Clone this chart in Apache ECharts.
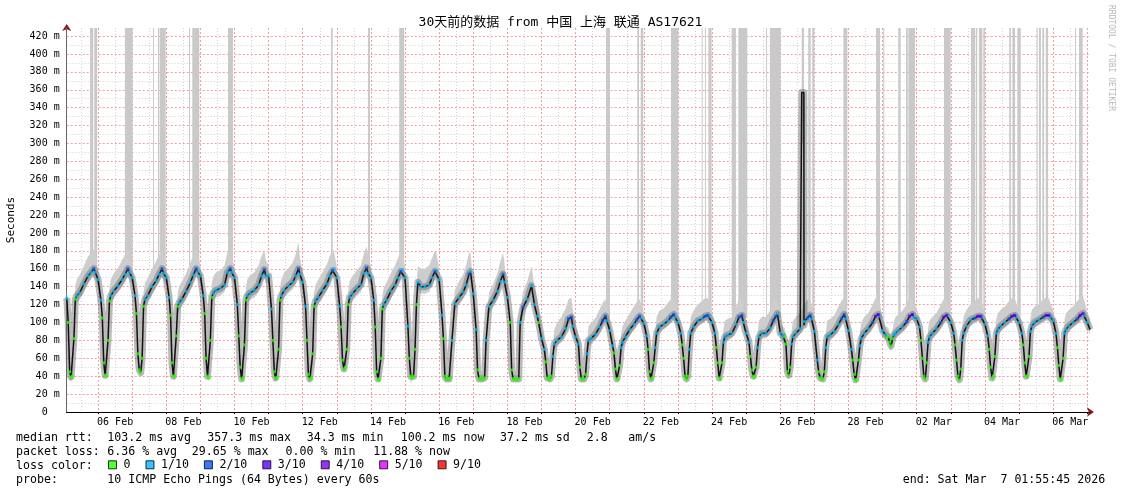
<!DOCTYPE html>
<html>
<head>
<meta charset="utf-8">
<title>SmokePing 30 days</title>
<script src="https://cdn.jsdelivr.net/npm/echarts@6/dist/echarts.min.js"></script>
<style>
    html, body { margin: 0; padding: 0; background: #fff; }
    #chart { width: 1121px; height: 494px; }
</style>
</head>
<body>
<div id="chart"></div>
<script>
// hours of day for every sample in a day row
var sampleHours = [0, 2, 3, 4, 5, 6, 7, 8, 9, 11, 14, 17, 19, 21, 22];

// median rtt (ms), one row per day: 05 Feb ... 07 Mar
var medianRows = [
    [null,127,100,45,39,40,82,126,130,133,143,152,156,160,156],
    [148,125,105,55,41,41,80,124,130,135,141,148,154,160,156],
    [150,130,110,65,47,44,60,118,126,130,140,147,154,160,155],
    [150,128,108,55,40,40,85,118,122,126,135,145,153,160,157],
    [152,130,110,60,40,38,80,128,133,136,138,142,156,160,156],
    [150,120,85,50,37,38,75,125,130,133,136,142,152,159,152],
    [152,115,80,45,38,38,70,125,130,136,141,145,152,160,154],
    [145,118,80,42,37,38,65,118,124,128,136,143,152,158,160],
    [150,118,95,58,48,50,70,120,128,132,138,142,155,161,155],
    [150,125,95,45,37,36,60,115,120,125,135,142,150,157,159],
    [150,96,60,40,38,40,70,120,145,140,140,142,150,157,158],
    [148,108,82,40,37,37,37,38,80,121,128,134,142,154,157],
    [132,92,47,37,37,37,37,38,80,118,125,135,146,154,145],
    [128,100,47,37,37,37,37,37,100,117,126,141,120,107,100],
    [82,70,56,38,37,37,40,62,76,80,84,93,104,106,96],
    [84,76,50,37,37,37,42,65,80,82,87,95,102,107,102],
    [91,74,66,48,37,37,52,72,78,84,92,98,103,107,105],
    [99,85,70,45,37,38,55,72,88,95,98,102,106,109,106],
    [100,88,75,60,40,37,40,70,88,95,102,104,107,108,107],
    [100,88,72,55,38,37,55,78,84,86,88,98,106,108,100],
    [88,78,62,47,40,39,50,72,84,88,88,94,102,107,110],
    [88,85,84,76,45,41,50,76,84,88,93,101,105,108,104],
    [90,58,45,38,37,37,45,72,84,86,90,98,104,109,104],
    [91,70,58,42,36,36,58,74,82,88,93,100,107,109,107],
    [91,86,85,84,78,74,82,86,88,91,95,101,107,109,106],
    [104,95,80,60,40,37,55,78,84,88,93,100,106,108,108],
    [100,88,75,58,40,36,48,80,88,96,103,105,107,107,106],
    [98,85,70,50,38,40,62,88,92,96,100,104,107,108,106],
    [100,88,75,55,40,40,62,90,96,100,103,106,108,108,106],
    [102,88,72,52,37,36,60,88,92,96,100,104,108,110,108],
    [100,92]
];

// top edge of the smoke (ms)
var smokeTopRows = [
    [null,137,112,57,44,45,94,141,148,153,163,174,178,182,174],
    [160,135,115,67,46,46,92,139,148,155,161,170,176,182,174],
    [162,140,120,77,52,49,72,133,144,150,160,169,176,184,173],
    [162,138,118,67,45,45,97,133,140,146,155,167,175,182,175],
    [164,140,120,72,45,43,92,143,151,156,158,164,178,182,174],
    [162,130,95,62,42,43,87,140,148,153,156,164,174,181,170],
    [164,125,90,57,43,43,82,140,148,156,161,167,176,190,172],
    [157,128,90,54,42,43,77,133,142,148,156,165,174,182,180],
    [162,128,105,70,53,55,82,135,146,152,158,164,177,185,175],
    [162,135,105,57,42,41,72,130,138,145,155,164,172,180,180],
    [162,106,70,52,43,45,82,135,163,160,160,164,172,180,178],
    [160,118,92,50,41,41,41,43,92,136,146,154,164,178,178],
    [144,102,57,42,41,41,41,43,92,133,143,155,168,178,165],
    [140,110,57,42,41,41,41,41,112,135,146,163,140,127,118],
    [94,80,66,44,41,41,46,74,92,100,106,116,126,128,114],
    [96,86,60,42,41,41,48,77,96,100,105,115,122,126,118],
    [103,84,76,56,41,41,62,87,96,102,110,118,123,126,121],
    [111,95,80,53,41,42,65,87,106,113,116,122,126,128,122],
    [112,98,85,68,44,41,46,85,106,113,120,124,127,127,123],
    [112,98,82,63,42,41,65,93,102,104,106,118,126,127,116],
    [100,88,72,55,44,43,60,87,102,106,106,114,122,126,126],
    [100,95,94,86,53,45,60,91,102,106,111,121,125,127,120],
    [102,68,55,46,41,41,55,87,102,104,108,118,124,128,120],
    [103,80,68,50,40,40,68,89,100,106,111,120,127,128,123],
    [103,96,95,94,88,84,92,101,106,109,113,121,127,128,122],
    [116,105,90,68,44,41,65,93,102,106,111,120,126,127,124],
    [112,98,85,66,44,40,58,95,106,114,121,125,127,126,122],
    [110,95,80,58,42,44,72,103,110,114,118,124,127,127,122],
    [112,98,85,63,44,44,72,105,114,118,121,126,128,127,122],
    [114,98,82,60,41,40,70,103,110,114,118,124,128,130,124],
    [112,104]
];

// bottom edge of the smoke (ms)
var smokeLowRows = [
    [null,119,88,35,36,37,70,116,122,125,135,144,148,152,148],
    [140,117,93,45,38,38,68,114,122,127,133,140,146,152,148],
    [142,122,98,55,44,41,48,108,118,122,132,139,146,152,147],
    [142,120,96,45,37,37,73,108,114,118,127,137,145,152,149],
    [144,122,98,50,37,35,68,118,125,128,130,134,148,152,148],
    [142,112,73,40,34,35,63,115,122,125,128,134,144,151,144],
    [144,107,68,35,35,35,58,115,122,128,133,137,144,152,146],
    [137,110,68,34,34,35,53,108,116,120,128,135,144,150,152],
    [142,110,83,48,45,47,58,110,120,124,130,134,147,153,147],
    [142,117,83,35,34,33,48,105,112,117,127,134,142,149,151],
    [142,88,48,32,35,37,58,110,137,132,132,134,142,149,150],
    [140,100,70,35,34,34,34,35,68,113,120,126,134,146,149],
    [124,84,40,34,34,34,34,35,68,110,117,127,138,146,137],
    [120,92,40,34,34,34,34,34,88,109,118,133,112,100,93],
    [76,64,48,35,34,34,36,54,70,74,78,87,98,100,90],
    [78,70,42,34,34,34,38,57,74,76,81,89,96,101,96],
    [85,68,58,42,34,34,44,64,72,78,86,92,97,101,99],
    [93,79,62,39,34,35,47,64,82,89,92,96,100,103,100],
    [94,82,67,54,37,34,36,62,82,89,96,98,101,102,101],
    [94,82,64,49,35,34,47,70,78,80,82,92,100,102,94],
    [82,72,54,41,37,36,42,64,78,82,82,88,96,101,104],
    [82,79,76,68,39,38,42,68,78,82,87,95,99,102,98],
    [84,52,39,35,34,34,39,64,78,80,84,92,98,103,98],
    [85,64,50,37,33,33,50,66,76,82,87,94,101,103,101],
    [85,80,79,78,72,68,76,80,82,85,89,95,101,103,100],
    [98,89,72,54,37,34,47,70,78,82,87,94,100,102,102],
    [94,82,67,52,37,33,40,72,82,90,97,99,101,101,100],
    [92,79,62,44,35,37,54,80,86,90,94,98,101,102,100],
    [94,82,67,49,37,37,54,82,90,94,97,100,102,102,100],
    [96,82,64,46,34,33,52,80,86,90,94,98,102,104,102],
    [94,86]
];

// packet loss per sample (x/10)
var lossRows = [
    '110000001111121','110000001111121','110000001111121','110000001111121',
    '110000001111121','110000001111121','110000001111121','110000001111121',
    '110000001111121','110000001111121','110000001111121','110000001111121',
    '110000001111121','100000001211110','110000011111221','110000011111221',
    '110000011111221','110000011111221','110000011111221','110000011111221',
    '110000011111221','110000011111221','110000011111221','110000011112331',
    '110000011112331','110000011112331','110000011112331','110000011112331',
    '110000011112331','110000011112341','11'
];

// the single tall rtt spike on 26 Feb (hours since 05 Feb 00:00)
var peakHours = [519.0, 519.1, 520.6, 520.7];
var peakValues = [95, 357, 357, 97];

// grey columns where some pings went off the scale
var spikeFrom = [18.3,21.3,42.9,62.6,66.1,67.5,88.0,90.3,115.4,187.9,213.9,235.9,381.4,403.4,405.8,427.1,448.7,451.0,453.4,469.8,474.5,494.0,496.7,519.1,523.7,526.5,548.4,571.4,576.5,587.0,592.5,594.1,619.2,638.2,641.7,643.8,646.9,665.1,667.3,670.8,684.4,686.0,688.4,690.8,711.4,714.2];
var spikeTo   = [20.6,23.4,48.3,63.3,67.1,71.6,88.7,95.2,118.9,189.1,215.3,239.4,384.2,404.6,407.6,432.3,449.4,451.7,455.7,472.8,480.8,494.7,504.3,520.7,525.4,528.0,551.2,574.2,577.2,588.7,593.7,598.8,623.9,641.2,642.6,646.2,648.0,666.3,669.2,673.2,685.1,687.4,689.6,692.4,712.1,716.8];
var spikeBase = [150,150,150,140,150,150,150,155,150,150,155,150,105,105,105,108,105,105,105,107,105,88,105,300,100,105,105,105,100,105,105,105,105,104,104,106,106,106,106,106,105,105,105,105,106,106];

var dateLabels = ['06 Feb','08 Feb','10 Feb','12 Feb','14 Feb','16 Feb','18 Feb','20 Feb',
                  '22 Feb','24 Feb','26 Feb','28 Feb','02 Mar','04 Mar','06 Mar'];
var lossLevels = [0, 1, 2, 3, 4, 5, 9];
var lossNames = ['0', '1/10', '2/10', '3/10', '4/10', '5/10', '9/10'];
var lossColors = ['#26ff00', '#00b8ff', '#0059ff', '#5e00ff', '#7e00ff', '#dd00ff', '#ff0000'];

// ---- layout ----
var W = 1121, H = 494;
var tStart = 1.92917, tEnd = 721.92917;   // 05 Feb 01:55:45 .. 07 Mar 01:55:45
var yTop = 429;
var plotL = 66.7, plotR = 1090, plotT = 28, plotB = 412;
var mono = '"DejaVu Sans Mono", "Noto Sans CJK SC", monospace';

function px(h) { return plotL + (h - tStart) * (plotR - plotL) / (tEnd - tStart); }
function py(v) { return plotB - v * (plotB - plotT) / yTop; }

// ---- build series data ----
var medPts = [], lowPts = [], topPts = [];
var dotPts = lossNames.map(function () { return []; });
medianRows.forEach(function (row, d) {
    row.forEach(function (v, i) {
        if (v == null) return;
        var t = d * 24 + sampleHours[i];
        medPts.push([t, v]);
        lowPts.push([t, smokeLowRows[d][i]]);
        topPts.push([t, smokeTopRows[d][i]]);
        var lv = lossLevels.indexOf(+lossRows[d].charAt(i));
        dotPts[lv < 0 ? 0 : lv].push([t, v]);
    });
});
peakHours.forEach(function (t, i) { medPts.push([t, peakValues[i]]); });
medPts.sort(function (a, b) { return a[0] - b[0]; });

var redGrid = { color: '#f0a0a0', type: [2, 2], width: 1 };
var greyGrid = { color: '#d2d2d2', type: [1, 2], width: 1 };

function grid(l, r, t, b) {
    return { left: l, right: W - r, top: t, bottom: H - b, outerBoundsMode: 'none', containLabel: false };
}
function hiddenX(gi) { return { gridIndex: gi, type: 'value', show: false, position: 'bottom', min: 0, max: 1 }; }
function hiddenY(gi) { return { gridIndex: gi, type: 'value', show: false, position: 'left', min: 0, max: 1 }; }

var chart = echarts.init(document.getElementById('chart'), null, { renderer: 'canvas' });

var series = [
    {   // grey columns reaching the top of the graph
        name: 'offscale', type: 'custom', silent: true, z: 1, clip: true,
        data: spikeFrom.map(function (f, i) { return [f, spikeTo[i], spikeBase[i]]; }),
        renderItem: function (params, api) {
            var a = api.coord([api.value(0), yTop]);
            var b = api.coord([api.value(1), api.value(2)]);
            return { type: 'rect', shape: { x: a[0], y: a[1], width: Math.max(b[0] - a[0], 1), height: b[1] - a[1] },
                     style: { fill: '#c9c9c9' } };
        },
        encode: { x: [0, 1], y: 2 }
    },
    {   // smoke band between lower and upper edge
        name: 'smoke', type: 'custom', silent: true, z: 2, clip: true,
        data: [[tStart, 0]],
        renderItem: function (params, api) {
            var pts = [];
            topPts.forEach(function (p) { pts.push(api.coord(p)); });
            for (var i = lowPts.length - 1; i >= 0; i--) pts.push(api.coord(lowPts[i]));
            return { type: 'polygon', shape: { points: pts }, style: { fill: '#cdcdcd' } };
        }
    },
    {   // darker smoke close to the median
        name: 'core', type: 'line', data: medPts, symbol: 'none', silent: true, z: 3,
        lineStyle: { width: 7, color: 'rgba(105,105,105,0.45)', join: 'round' }
    },
    {
        name: 'median', type: 'line', data: medPts, symbol: 'none', silent: true, z: 4,
        lineStyle: { width: 1.5, color: '#111' }
    }
];
lossNames.forEach(function (n, i) {
    series.push({
        name: n, type: 'scatter', data: dotPts[i], symbol: 'rect', symbolSize: 3,
        itemStyle: { color: lossColors[i] }, silent: true, z: 5
    });
});

var option = {
    backgroundColor: '#fff',
    animation: false,
    textStyle: { fontFamily: mono },
    title: {
        text: '30天前的数据 from 中国 上海 联通 AS17621',
        left: 'center', top: 11,
        textStyle: { fontFamily: mono, fontSize: 13, fontWeight: 'normal', color: '#000' }
    },
    legend: {
        data: lossNames, left: 108, top: 459, padding: 0,
        itemWidth: 8, itemHeight: 8, itemGap: 15, icon: 'rect', selectedMode: false,
        itemStyle: { borderColor: '#000', borderWidth: 1 },
        textStyle: { fontFamily: mono, fontSize: 11.6, color: '#000', padding: [0, 0, 0, 2] }
    },
    grid: [
        grid(plotL, plotR, plotT, plotB),               // 0 data
        grid(px(24), px(720), plotT, plotB),            // 1 midnight lines
        grid(px(12), px(708), plotT, plotB),            // 2 noon lines + dates
        grid(plotL, plotR, py(420), plotB),             // 3 20 ms lines + labels
        grid(plotL, plotR, py(410), py(10))             // 4 10 ms lines
    ],
    xAxis: [
        {   // 0: dark red arrow, drawn under the black axis line
            gridIndex: 0, type: 'value', min: tStart, max: tEnd, z: 0, position: 'bottom',
            axisLine: { lineStyle: { color: '#8b1a1a', width: 1 }, symbol: ['none', 'arrow'], symbolSize: [7, 7], symbolOffset: [0, 4] },
            axisTick: { show: false }, axisLabel: { show: false }, splitLine: { show: false }
        },
        {   // 1: midnight lines
            gridIndex: 1, type: 'value', min: 24, max: 720, interval: 24, position: 'bottom',
            axisLine: { show: false }, axisLabel: { show: false },
            axisTick: { show: true, length: 2, lineStyle: { color: '#000' } },
            splitLine: { show: true, lineStyle: redGrid }
        },
        {   // 2: noon lines and date labels
            gridIndex: 2, type: 'value', min: 12, max: 708, interval: 24, position: 'bottom',
            axisLine: { show: false }, axisTick: { show: false },
            axisLabel: {
                interval: 0, margin: 5, fontFamily: mono, fontSize: 10, color: '#000',
                formatter: function (v) {
                    var j = Math.round((v - 12) / 24);
                    return j % 2 === 1 ? dateLabels[(j - 1) / 2] : '';
                }
            },
            splitLine: { show: true, lineStyle: greyGrid }
        },
        hiddenX(3), hiddenX(4),
        {   // 5: black x axis line
            gridIndex: 0, type: 'value', min: tStart, max: tEnd, z: 1, position: 'bottom',
            axisLine: { lineStyle: { color: '#000', width: 1 } },
            axisTick: { show: false }, axisLabel: { show: false }, splitLine: { show: false }
        }
    ],
    yAxis: [
        {   // 0: dark red arrow + axis name
            gridIndex: 0, type: 'value', min: 0, max: yTop, z: 0, position: 'left',
            axisLine: { show: true, lineStyle: { color: '#8b1a1a', width: 1 }, symbol: ['none', 'arrow'], symbolSize: [7, 7], symbolOffset: [0, 4] },
            axisTick: { show: false }, axisLabel: { show: false }, splitLine: { show: false },
            name: 'Seconds', nameLocation: 'middle', nameGap: 50, nameRotate: 90,
            nameTextStyle: { fontFamily: mono, fontSize: 11, color: '#000' }
        },
        hiddenY(1), hiddenY(2),
        {   // 3: 20 ms lines + labels
            gridIndex: 3, type: 'value', min: 0, max: 420, interval: 20, position: 'left',
            axisLine: { show: false }, axisTick: { show: false },
            axisLabel: {
                margin: 7, fontFamily: mono, fontSize: 10, color: '#000',
                formatter: function (v) { return v === 0 ? '0  ' : v + ' m'; }
            },
            splitLine: { show: true, showMinLine: false, lineStyle: redGrid }
        },
        {   // 4: 10 ms lines
            gridIndex: 4, type: 'value', min: 10, max: 410, interval: 20, position: 'left',
            axisLine: { show: false }, axisTick: { show: false }, axisLabel: { show: false },
            splitLine: { show: true, lineStyle: greyGrid }
        },
        {   // 5: grey y axis line
            gridIndex: 0, type: 'value', min: 0, max: yTop, z: 1, position: 'left',
            axisLine: { show: true, lineStyle: { color: '#666', width: 1 } },
            axisTick: { show: false }, axisLabel: { show: false }, splitLine: { show: false }
        }
    ],
    series: series.map(function (s) { s.xAxisIndex = 0; s.yAxisIndex = 0; return s; }),
    graphic: { elements: [] }
};

// legend text lines under the chart
var textLines = [
    [438, [['median rtt:', 16], ['103.2 ms avg', 107.3], ['357.3 ms max', 207.3], ['34.3 ms min', 306.7],
           ['100.2 ms now', 400.7], ['37.2 ms sd', 500], ['2.8', 586.7], ['am/s', 628.3]]],
    [452, [['packet loss:', 16], ['6.36 % avg', 107.3], ['29.65 % max', 191.8], ['0.00 % min', 285.6], ['11.88 % now', 373.2]]],
    [466, [['loss color:', 16]]],
    [480, [['probe:', 16], ['10 ICMP Echo Pings (64 Bytes) every 60s', 107.3], ['end: Sat Mar  7 01:55:45 2026', 902.7]]]
];
textLines.forEach(function (line) {
    line[1].forEach(function (tok) {
        option.graphic.elements.push({
            type: 'text', x: tok[1], y: line[0], silent: true,
            style: { text: tok[0], font: '11.6px ' + mono, fill: '#000', textAlign: 'left', textVerticalAlign: 'middle' }
        });
    });
});
option.graphic.elements.push({
    type: 'text', x: 1111, y: 5, rotation: -Math.PI / 2, silent: true,
    style: { text: 'RRDTOOL / TOBI OETIKER', font: '8px ' + mono, fill: '#b8b8b8', textAlign: 'left', textVerticalAlign: 'middle' }
});

chart.setOption(option);
</script>
</body>
</html>
